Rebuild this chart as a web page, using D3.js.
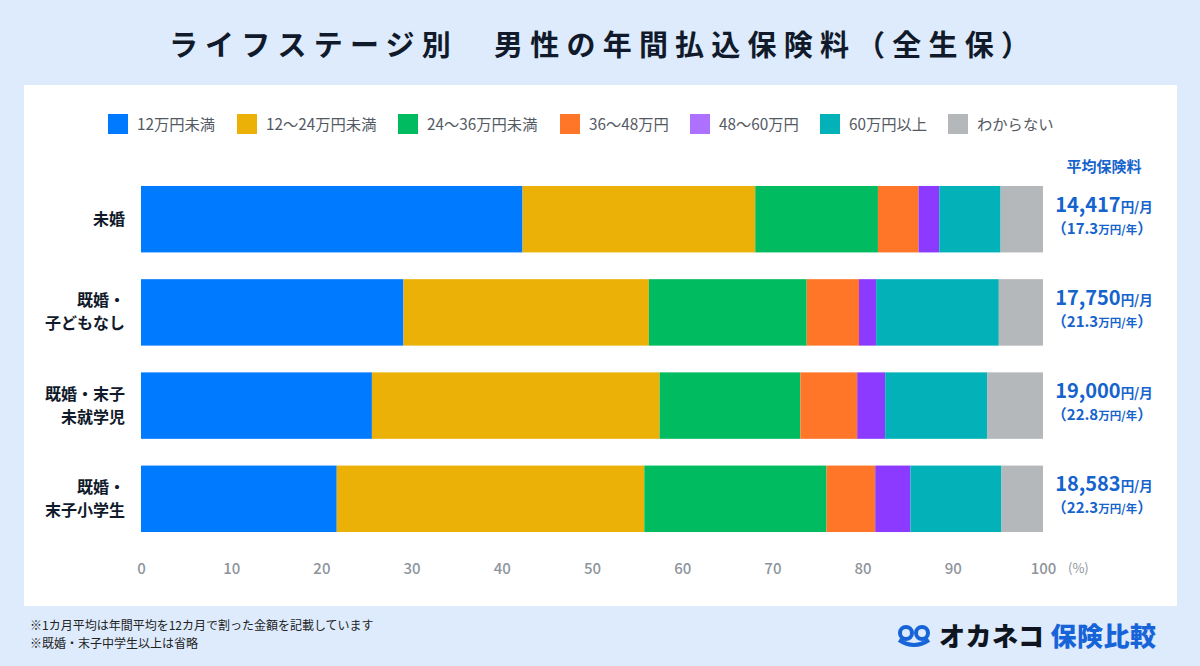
<!DOCTYPE html>
<html><head><meta charset="utf-8">
<script src="https://cdn.jsdelivr.net/npm/d3@7"></script>
<style>
html,body{margin:0;padding:0;background:#DDEBFC;}
svg{display:block;font-family:"Noto Sans CJK JP","Noto Sans",sans-serif;}
</style></head><body>
<svg id="c" width="1200" height="666"></svg>
<script>
const categories = [["未婚"],["既婚・","子どもなし"],["既婚・末子","未就学児"],["既婚・","末子小学生"]];
const seriesNames = ["12万円未満","12～24万円未満","24～36万円未満","36～48万円","48～60万円","60万円以上","わからない"];
const seriesColors = ["#007AFF","#ECB106","#00BB5F","#FF7628","#8C3AFF","#03B2B8","#B4B8BB"];
const legendColors = ["#007AFF","#ECB106","#00BB5F","#FF7628","#AD70FF","#03B2B8","#B4B8BB"];
const values = [
  [42.3,25.8,13.6,4.5,2.3,6.8,4.7],
  [29.1,27.2,17.5,5.8,1.9,13.6,4.9],
  [25.6,31.9,15.6,6.3,3.1,11.3,6.2],
  [21.7,34.1,20.2,5.4,3.9,10.1,4.6]
];
const monthly = ["14,417","17,750","19,000","18,583"];
const yearly = ["17.3","21.3","22.8","22.3"];
const ticks = [0,10,20,30,40,50,60,70,80,90,100];

const svg = d3.select("#c");
svg.append("rect").attr("width",1200).attr("height",666).attr("fill","#DDEBFC");
svg.append("rect").attr("x",24).attr("y",85).attr("width",1153).attr("height",521).attr("fill","#fff");

svg.append("text").attr("x",603).attr("y",56).attr("text-anchor","middle")
  .attr("font-size",29).attr("font-weight",700).attr("fill","#111a2b").attr("letter-spacing",7.2)
  .text("ライフステージ別　男性の年間払込保険料（全生保）");

const x = d3.scaleLinear().domain([0,100]).range([141,1043]);
const idx = d3.range(categories.length);
const y = d3.scaleBand().domain(idx).range([172.6,545.4]).paddingInner(0.287).paddingOuter(0.1435);

// legend
const legX = [108,237,398,560,690,820,948];
const lg = svg.append("g");
seriesNames.forEach((n,i)=>{
  lg.append("rect").attr("x",legX[i]).attr("y",114).attr("width",20).attr("height",20).attr("fill",legendColors[i]);
  lg.append("text").attr("x",legX[i]+29).attr("y",130).attr("font-size",15.3).attr("fill","#545a64").text(n);
});

// bars
const stack = values.map(r=>{let acc=0;return r.map(v=>{const s=acc;acc+=v;return [s,acc];});});
idx.forEach(ci=>{
  const g = svg.append("g");
  g.selectAll("rect").data(stack[ci]).join("rect")
    .attr("x",d=>x(d[0])).attr("width",d=>x(d[1])-x(d[0]))
    .attr("y",y(ci)).attr("height",y.bandwidth())
    .attr("fill",(d,i)=>seriesColors[i]);
});

// category labels
idx.forEach(ci=>{
  const lines = categories[ci];
  const cy = y(ci)+y.bandwidth()/2;
  const t = svg.append("text").attr("text-anchor","end").attr("font-size",16).attr("font-weight",700).attr("fill","#111a2b");
  if(lines.length===1){
    t.append("tspan").attr("x",125).attr("y",cy+6).text(lines[0]);
  } else {
    t.append("tspan").attr("x",125).attr("y",cy-6).text(lines[0]);
    t.append("tspan").attr("x",125).attr("y",cy+17).text(lines[1]);
  }
});

// right labels
const blue = "#1563CC";
svg.append("text").attr("x",1104).attr("y",172).attr("text-anchor","middle").attr("font-size",15).attr("font-weight",700).attr("fill",blue).text("平均保険料");
idx.forEach(ci=>{
  const cy = y(ci)+y.bandwidth()/2;
  const t1 = svg.append("text").attr("x",1104).attr("y",cy-7.5).attr("text-anchor","middle").attr("font-weight",700).attr("fill",blue);
  t1.append("tspan").attr("font-size",20).text(monthly[ci]);
  t1.append("tspan").attr("font-size",13.5).text("円/月");
  const t2 = svg.append("text").attr("x",1102).attr("y",cy+14.5).attr("text-anchor","middle").attr("font-weight",700).attr("fill",blue);
  t2.append("tspan").attr("font-size",15).text("（"+yearly[ci]);
  t2.append("tspan").attr("font-size",11.5).text("万円/年");
  t2.append("tspan").attr("font-size",15).text("）");
});

// axis
const ax = svg.append("g").attr("transform","translate(0,560)")
  .call(d3.axisBottom(x).tickValues(ticks).tickSize(0).tickPadding(0).tickFormat(d3.format("d")));
ax.select(".domain").remove();
ax.selectAll("text").attr("font-size",15).attr("font-weight",500).attr("fill","#8E949C")
  .attr("font-family","'Noto Sans CJK JP','Noto Sans',sans-serif").attr("dy","0.9em");
svg.append("text").attr("x",1068).attr("y",573).attr("font-size",13).attr("fill","#8E949C").text("(%)");

// footnotes
svg.append("text").attr("x",30).attr("y",630).attr("font-size",12).attr("fill","#222").text("※1カ月平均は年間平均を12カ月で割った金額を記載しています");
svg.append("text").attr("x",30).attr("y",648).attr("font-size",12).attr("fill","#222").text("※既婚・末子中学生以上は省略");

// logo
const lgo = svg.append("g");
lgo.append("circle").attr("cx",906).attr("cy",633).attr("r",6).attr("fill","none").attr("stroke","#1763D8").attr("stroke-width",4);
lgo.append("circle").attr("cx",922).attr("cy",633).attr("r",6).attr("fill","none").attr("stroke","#1763D8").attr("stroke-width",4);
lgo.append("path").attr("d","M899 640 Q914 650 929 640").attr("fill","none").attr("stroke","#1763D8").attr("stroke-width",4);
const lt = svg.append("text").attr("x",939).attr("y",646).attr("font-size",26).attr("font-weight",900).attr("letter-spacing",0.5);
lt.append("tspan").attr("fill","#0e1420").text("オカネコ");
lt.append("tspan").attr("fill","#1763D8").attr("dx",6).text("保険比較");
</script>
</body></html>
